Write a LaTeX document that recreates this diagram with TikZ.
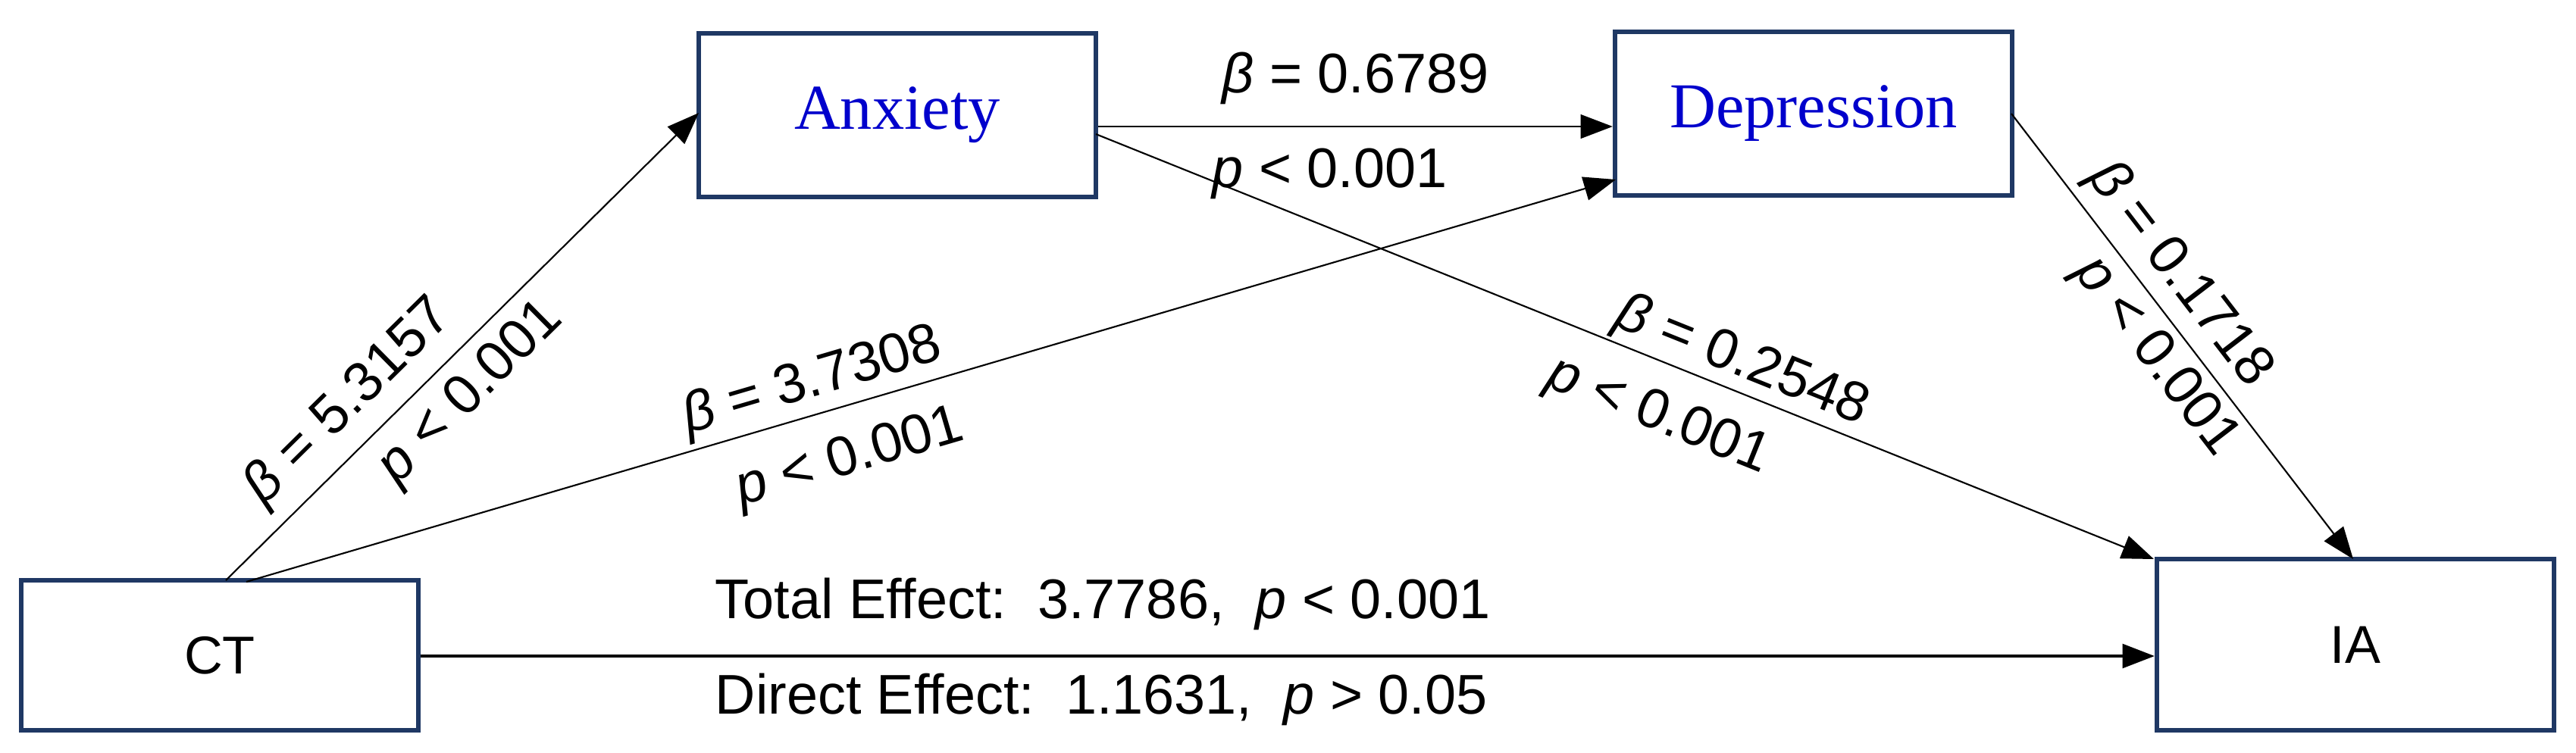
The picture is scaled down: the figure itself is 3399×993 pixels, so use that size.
\documentclass[tikz,border=0pt]{standalone}
\usepackage{fontspec}
\setmainfont{Liberation Sans}
\newfontfamily\serifnode{Liberation Serif}
\usetikzlibrary{arrows.meta}
\newcommand{\bb}{\textit{β}}
\newcommand{\pp}{\textit{p}}
\begin{document}
\begin{tikzpicture}[x=0.01cm,y=-0.01cm,
  box/.style={draw=navy,line width=1.7pt,inner sep=0pt,minimum width=5.24cm},
  arr/.style={line width=0.6pt,-{Triangle[length=12pt,width=9pt]}},
  lab/.style={font=\fontsize{21}{24}\selectfont,sloped,inner sep=5pt},
  eff/.style={font=\fontsize{21}{24}\selectfont,anchor=west,inner sep=0pt}]
\definecolor{navy}{HTML}{1F3864}
\definecolor{txtblue}{HTML}{0000CC}
\useasboundingbox (0,0) rectangle (3399,993);
\node[box,minimum height=1.97cm,font=\fontsize{20}{22}\selectfont] (ct) at (290,865) {CT};
\node[box,minimum height=2.16cm,text=txtblue,font=\serifnode\fontsize{24}{26}\selectfont] (anx) at (1184,152) {Anxiety};
\node[box,minimum height=2.16cm,text=txtblue,font=\serifnode\fontsize{24}{26}\selectfont] (dep) at (2393,150) {Depression};
\node[box,minimum height=2.25cm,font=\fontsize{20}{22}\selectfont] (ia) at (3108,851) {IA};
\coordinate (ct1) at (298,766);
\coordinate (ct2) at (325,768);
\coordinate (anxin) at (922,149);
\coordinate (depin) at (2132,237);
\coordinate (anxout) at (1446,177);
\coordinate (iain1) at (2842,738);
\coordinate (depout) at (2654,150);
\coordinate (iain2) at (3105,738);
\draw[arr] (ct1) -- (anxin)
  node[lab,pos=0.32,above] {\bb{} = 5.3157}
  node[lab,pos=0.46,below] {\pp{} < 0.001};
\draw[arr] (ct2) -- (depin)
  node[lab,pos=0.42,above,inner sep=2pt] {\bb{} = 3.7308}
  node[lab,pos=0.43,below,inner sep=10pt] {\pp{} < 0.001};
\draw[arr] (anx.east |- 0,167) -- (dep.west |- 0,167)
  node[lab,pos=0.5,above,inner sep=8pt] {\bb{} = 0.6789}
  node[lab,pos=0.45,below,inner sep=8pt] {\pp{} < 0.001};
\draw[arr] (anxout) -- (iain1)
  node[lab,pos=0.6,above,inner sep=1pt] {\bb{} = 0.2548}
  node[lab,pos=0.55,below,inner sep=10pt] {\pp{} < 0.001};
\draw[arr] (depout) -- (iain2)
  node[lab,pos=0.41,above,inner sep=3pt] {\bb{} = 0.1718}
  node[lab,pos=0.5,below,inner sep=3pt] {\pp{} < 0.001};
\draw[line width=1pt,-{Triangle[length=12pt,width=9pt]}] (ct.east |- 0,866) -- (ia.west |- 0,866);
\node[eff] (tot) at (943,797) {Total Effect:\ \ 3.7786,\ \ \pp{} < 0.001};
\node[eff] (dir) at (943,923) {Direct Effect:\ \ 1.1631,\ \ \pp{} > 0.05};
\end{tikzpicture}
\end{document}
